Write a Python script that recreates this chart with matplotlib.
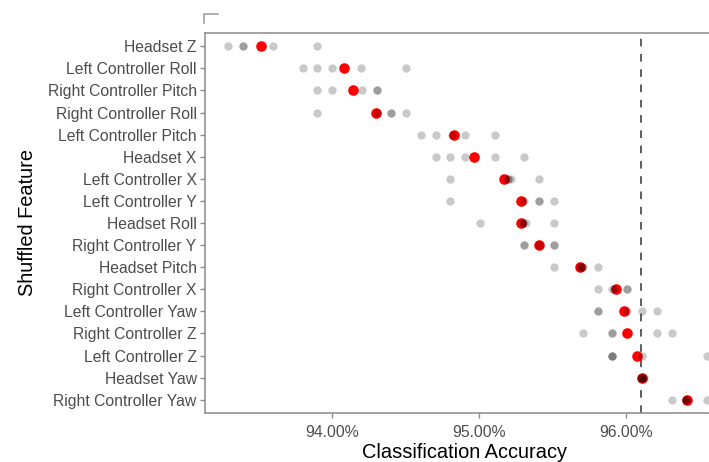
import matplotlib
matplotlib.use("Agg")
import matplotlib.pyplot as plt
import numpy as np
from matplotlib.lines import Line2D

plt.rcParams['font.family'] = ['Liberation Sans', 'DejaVu Sans']

features = [
    "Headset Z", "Left Controller Roll", "Right Controller Pitch",
    "Right Controller Roll", "Left Controller Pitch", "Headset X",
    "Left Controller X", "Left Controller Y", "Headset Roll",
    "Right Controller Y", "Headset Pitch", "Right Controller X",
    "Left Controller Yaw", "Right Controller Z", "Left Controller Z",
    "Headset Yaw", "Right Controller Yaw",
]

# five shuffled-feature repetitions (accuracy, %), one value per feature
run_1 = [93.295, 93.80, 93.90, 93.90, 94.603, 94.705, 94.805, 94.805, 95.005,
         95.306, 95.51, 95.807, 95.807, 95.707, 95.907, 96.10, 96.31]
run_2 = [93.392, 93.90, 94.00, 94.304, 94.705, 94.805, 95.20, 95.306, 95.30,
         95.306, 95.69, 95.907, 95.807, 95.907, 95.907, 96.11, 96.41]
run_3 = [93.392, 94.00, 94.204, 94.401, 94.814, 94.905, 95.20, 95.41, 95.30,
         95.41, 95.70, 95.92, 96.004, 95.907, 95.907, 96.11, 96.41]
run_4 = [93.597, 94.20, 94.304, 94.401, 94.905, 95.107, 95.22, 95.41, 95.32,
         95.508, 95.71, 96.01, 96.111, 96.21, 96.111, 96.11, 96.41]
run_5 = [93.90, 94.505, 94.304, 94.505, 95.107, 95.306, 95.41, 95.508, 95.508,
         95.508, 95.81, 96.01, 96.21, 96.31, 96.551, 96.12, 96.551]

baseline_accuracy = 96.10
x_ticks = [94.0, 95.0, 96.0]
x_tick_labels = ["94.00%", "95.00%", "96.00%"]

W, H = 709, 462
fig = plt.figure(figsize=(W / 100, H / 100), dpi=100)
# axes: left 205px, top 33px, bottom 413px, extends past right edge
left_px, top_px, bot_px, right_px = 205, 33, 413, 715
ax = fig.add_axes([left_px / W, 1 - bot_px / H,
                   (right_px - left_px) / W, (bot_px - top_px) / H])

runs = np.array([run_1, run_2, run_3, run_4, run_5])
means = runs.mean(axis=0)
n = len(features)
ypos = np.arange(n)[::-1] + 1  # top feature at highest y

ax.scatter(means, ypos, s=58, color='#ff0000', zorder=3, linewidths=0)
for r in runs:
    ax.scatter(r, ypos, s=36, color='black', alpha=0.21, zorder=4,
               linewidths=0)

ax.axvline(baseline_accuracy, color='#333333', linestyle=(0, (5, 5)),
           linewidth=1.1, zorder=2)

ax.set_ylim(0.4, n + 0.6)
ax.set_yticks(ypos)
ax.set_yticklabels(features)
ax.set_xlim(93.136, 93.136 + (right_px - left_px) / 147.0)
ax.set_xticks(x_ticks)
ax.set_xticklabels(x_tick_labels)

for s in ['left', 'bottom', 'top', 'right']:
    ax.spines[s].set_color('#8a8a8a')
    ax.spines[s].set_linewidth(1.1)

ax.tick_params(axis='both', colors='#8a8a8a', length=3.5, width=1.0,
               labelsize=11.3, labelcolor='#4d4d4d')
ax.tick_params(axis='y', pad=2.5)
ax.tick_params(axis='x', pad=5)

fig.text(28 / W, 1 - 222 / H, "Shuffled Feature", rotation=90,
         ha='center', va='center', fontsize=14.4, color='black')
fig.text(465 / W, 1 - 452 / H, "Classification Accuracy",
         ha='center', va='center', fontsize=14.4, color='black')

# small corner mark above the panel
fig.add_artist(Line2D([204 / W, 204 / W, 218 / W],
                      [1 - 23 / H, 1 - 14 / H, 1 - 14 / H],
                      color='#9a9a9a', linewidth=1.1))

fig.savefig("out.png", dpi=100)
